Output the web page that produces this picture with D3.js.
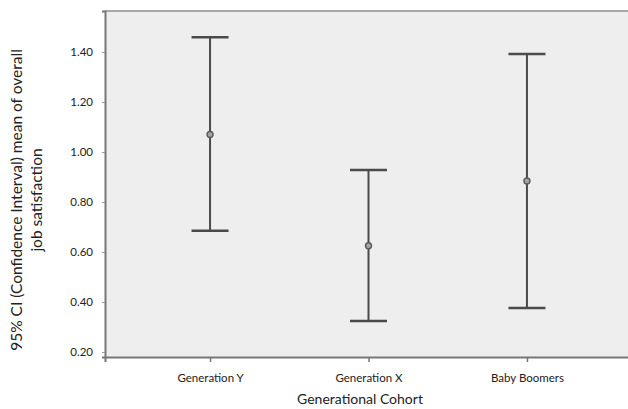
<!DOCTYPE html>
<html><head><meta charset="utf-8">
<script src="https://cdn.jsdelivr.net/npm/d3@7"></script>
<style>body{margin:0;background:#fff}svg{display:block}text{font-family:Lato,"Open Sans",sans-serif;fill:#222}</style>
</head><body><svg id="c" width="628" height="409"></svg>
<script>
const categories = ["Generation Y", "Generation X", "Baby Boomers"];
const means = [1.07, 0.625, 0.884];
const lowerCI = [0.685, 0.324, 0.376];
const upperCI = [1.459, 0.928, 1.392];
const yTicks = [0.2, 0.4, 0.6, 0.8, 1.0, 1.2, 1.4];

const svg = d3.select("#c");
const L = 105, R = 632, T = 11, B = 357;
const x = d3.scalePoint().domain(categories).range([L, R]).padding(0.663);
const y = d3.scaleLinear().domain([0.18, 1.564]).range([B, T]);

svg.append("rect").attr("x", L).attr("y", T).attr("width", R - L).attr("height", B - T).attr("fill", "#eeeeee");
svg.append("line").attr("x1", L).attr("x2", R).attr("y1", T).attr("y2", T).attr("stroke", "#a8a8a8").attr("stroke-width", 2);

const yAx = svg.append("g").attr("transform", `translate(${L},0)`)
  .call(d3.axisLeft(y).tickValues(yTicks).tickFormat(d3.format(".2f")).tickSize(3).tickPadding(9));
yAx.select(".domain").attr("stroke", "#777").attr("stroke-width", 2);
yAx.selectAll(".tick line").attr("stroke", "#999");
yAx.selectAll("text").attr("font-size", 11.5).attr("fill", "#222");

const xAx = svg.append("g").attr("transform", `translate(0,${B})`)
  .call(d3.axisBottom(x).tickSize(5).tickPadding(12));
xAx.select(".domain").attr("stroke", "#777").attr("stroke-width", 2);
xAx.selectAll(".tick line").attr("stroke", "#777").attr("stroke-width", 1.5);
xAx.selectAll("text").attr("font-size", 11.5).attr("fill", "#222");

const g = svg.append("g");
categories.forEach((c, i) => {
  const cx = x(c);
  g.append("line").attr("x1", cx).attr("x2", cx).attr("y1", y(upperCI[i])).attr("y2", y(lowerCI[i]))
    .attr("stroke", "#4a4a4a").attr("stroke-width", 2);
  [upperCI[i], lowerCI[i]].forEach(v => {
    g.append("line").attr("x1", cx - 18.5).attr("x2", cx + 18.5).attr("y1", y(v)).attr("y2", y(v))
      .attr("stroke", "#4a4a4a").attr("stroke-width", 2.5);
  });
  g.append("circle").attr("cx", cx).attr("cy", y(means[i])).attr("r", 3)
    .attr("fill", "#a5a5a5").attr("stroke", "#5a5a5a").attr("stroke-width", 1.4);
});

svg.append("text").attr("x", 360).attr("y", 404).attr("text-anchor", "middle")
  .attr("font-size", 14).text("Generational Cohort");
const yt = svg.append("text").attr("transform", "translate(22,200) rotate(-90)").attr("text-anchor", "middle").attr("font-size", 15.5);
yt.append("tspan").attr("x", 0).attr("dy", 0).text("95% CI (Confidence Interval) mean of overall");
yt.append("tspan").attr("x", 0).attr("dy", 20).text("job satisfaction");
</script></body></html>
